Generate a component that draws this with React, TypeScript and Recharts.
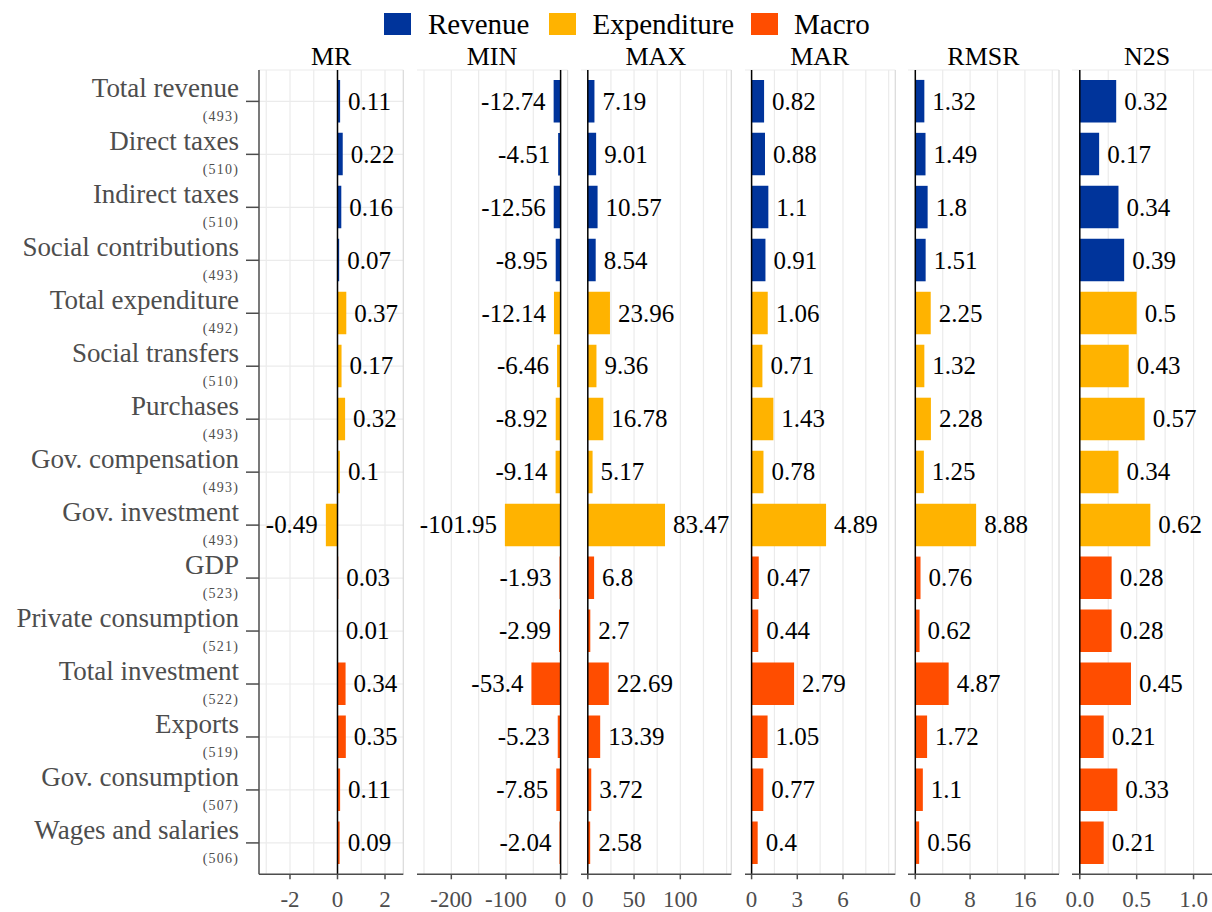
import React from 'react';
import { BarChart, Bar, XAxis, YAxis, CartesianGrid, ReferenceLine, LabelList, Cell } from 'recharts';

const categories = [
  'Total revenue', 'Direct taxes', 'Indirect taxes', 'Social contributions',
  'Total expenditure', 'Social transfers', 'Purchases', 'Gov. compensation', 'Gov. investment',
  'GDP', 'Private consumption', 'Total investment', 'Exports', 'Gov. consumption', 'Wages and salaries',
];
const counts = [493, 510, 510, 493, 492, 510, 493, 493, 493, 523, 521, 522, 519, 507, 506];
const groups = [
  'Revenue', 'Revenue', 'Revenue', 'Revenue',
  'Expenditure', 'Expenditure', 'Expenditure', 'Expenditure', 'Expenditure',
  'Macro', 'Macro', 'Macro', 'Macro', 'Macro', 'Macro',
];
const legendGroups = ['Revenue', 'Expenditure', 'Macro'];

const mrValues = [0.11, 0.22, 0.16, 0.07, 0.37, 0.17, 0.32, 0.1, -0.49, 0.03, 0.01, 0.34, 0.35, 0.11, 0.09];
const minValues = [-12.74, -4.51, -12.56, -8.95, -12.14, -6.46, -8.92, -9.14, -101.95, -1.93, -2.99, -53.4, -5.23, -7.85, -2.04];
const maxValues = [7.19, 9.01, 10.57, 8.54, 23.96, 9.36, 16.78, 5.17, 83.47, 6.8, 2.7, 22.69, 13.39, 3.72, 2.58];
const marValues = [0.82, 0.88, 1.1, 0.91, 1.06, 0.71, 1.43, 0.78, 4.89, 0.47, 0.44, 2.79, 1.05, 0.77, 0.4];
const rmsrValues = [1.32, 1.49, 1.8, 1.51, 2.25, 1.32, 2.28, 1.25, 8.88, 0.76, 0.62, 4.87, 1.72, 1.1, 0.56];
const n2sValues = [0.32, 0.17, 0.34, 0.39, 0.5, 0.43, 0.57, 0.34, 0.62, 0.28, 0.28, 0.45, 0.21, 0.33, 0.21];

const mrTicks = [-2, 0, 2];
const minTicks = [-200, -100, 0];
const maxTicks = [0, 50, 100];
const marTicks = [0, 3, 6];
const rmsrTicks = [0, 8, 16];
const n2sTicks = [0, 0.5, 1];

const mrGrid = [-3, -2, -1, 0, 1, 2];
const minGrid = [-250, -200, -150, -100, -50, 0];
const maxGrid = [0, 25, 50, 75, 100, 125, 150];
const marGrid = [0, 1.5, 3, 4.5, 6, 7.5, 9];
const rmsrGrid = [0, 4, 8, 12, 16, 20];
const n2sGrid = [0, 0.25, 0.5, 0.75, 1, 1.25];

const FONT = '"Liberation Serif", "Times New Roman", serif';
const GROUP_COLORS: Record<string, string> = {
  Revenue: '#00349B',
  Expenditure: '#FFB300',
  Macro: '#FF4D00',
};

const W = 1212;
const H = 912;
const PLOT_TOP = 70;
const PLOT_BOTTOM = 874.3;
const AXIS_GREY = '#4d4d4d';

const panels = [
  { title: 'MR', values: mrValues, left: 259, right: 403.3, domain: [-3.305, 2.77], ticks: mrTicks, grid: mrGrid },
  { title: 'MIN', values: minValues, left: 416.7, right: 567.3, domain: [-262.8, 12.8], ticks: minTicks, grid: minGrid },
  { title: 'MAX', values: maxValues, left: 580.7, right: 731, domain: [-7.35, 155.1], ticks: maxTicks, grid: maxGrid },
  { title: 'MAR', values: marValues, left: 744.7, right: 895, domain: [-0.433, 9.435], ticks: marTicks, grid: marGrid },
  { title: 'RMSR', values: rmsrValues, left: 908, right: 1059, domain: [-1.067, 20.98], ticks: rmsrTicks, grid: rmsrGrid },
  { title: 'N2S', values: n2sValues, left: 1072, right: 1222, domain: [-0.0685, 1.25], ticks: n2sTicks, grid: n2sGrid, fmt: (v: number) => v.toFixed(1) },
];

// legend layout (box left, text left)
const legendLayout = [
  { box: 384, text: 428 },
  { box: 549, text: 592.5 },
  { box: 751, text: 794 },
];

const CategoryTick = (props: any) => {
  const { x, y, payload } = props;
  const i = categories.indexOf(payload.value);
  return (
    <g>
      <text x={x} y={y - 4} textAnchor="end" fontSize={27} fill={AXIS_GREY} fontFamily={FONT}>
        {payload.value}
      </text>
      <text x={x} y={y + 20} textAnchor="end" fontSize={14} letterSpacing={1.2} fill={AXIS_GREY} fontFamily={FONT}>
        ({counts[i]})
      </text>
    </g>
  );
};

const renderValue = (props: any) => {
  const vb = props.viewBox || {};
  const x = Number(props.x ?? vb.x);
  const y = Number(props.y ?? vb.y);
  const w = Number(props.width ?? vb.width);
  const h = Number(props.height ?? vb.height);
  const v = Number(props.value);
  const neg = v < 0;
  const lo = Math.min(x, x + w);
  const hi = Math.max(x, x + w);
  return (
    <text
      x={neg ? lo - 8 : hi + 8}
      y={y + h / 2}
      textAnchor={neg ? 'end' : 'start'}
      dominantBaseline="central"
      fontSize={25}
      fill="#000"
      fontFamily={FONT}
    >
      {String(props.value)}
    </text>
  );
};

const Panel = ({ p, first }: { p: any; first: boolean }) => {
  const padL = first ? 0 : 40;
  const padR = 8;
  const chartLeft = first ? 0 : p.left - padL;
  const width = p.right + padR - chartLeft;
  const data = categories.map((name, i) => ({ name, group: groups[i], value: p.values[i] }));
  return (
    <div style={{ position: 'absolute', left: chartLeft, top: 0 }}>
      <BarChart
        width={width}
        height={H}
        data={data}
        layout="vertical"
        margin={{ top: PLOT_TOP, right: padR, bottom: 0, left: padL }}
        barSize={42.5}
      >
        <CartesianGrid stroke="#ebebeb" strokeWidth={1.2} verticalValues={p.grid} />
        <XAxis
          type="number"
          domain={p.domain}
          ticks={p.ticks}
          allowDataOverflow
          interval={0}
          height={H - PLOT_BOTTOM}
          tickSize={5}
          tickMargin={11}
          axisLine={{ stroke: AXIS_GREY, strokeWidth: 1.5 }}
          tickLine={{ stroke: AXIS_GREY, strokeWidth: 1.5 }}
          tick={{ fontSize: 23, fill: AXIS_GREY, fontFamily: FONT }}
          tickFormatter={p.fmt}
        />
        <XAxis
          xAxisId="top"
          orientation="top"
          type="number"
          domain={p.domain}
          allowDataOverflow
          height={0}
          tick={false}
          tickLine={false}
          axisLine={{ stroke: '#d9d9d9', strokeWidth: 1.2 }}
        />
        <YAxis
          type="category"
          dataKey="name"
          width={first ? p.left : 0}
          interval={0}
          padding={{ top: 4.9, bottom: 4.9 }}
          tickSize={first ? 13 : 0}
          tickMargin={first ? 7 : 0}
          axisLine={{ stroke: AXIS_GREY, strokeWidth: 1.5 }}
          tickLine={first ? { stroke: AXIS_GREY, strokeWidth: 1.5 } : false}
          tick={first ? CategoryTick : false}
        />
        <ReferenceLine x={p.domain[1]} stroke="#d9d9d9" strokeWidth={1.2} />
        <Bar dataKey="value" isAnimationActive={false}>
          {data.map((d, i) => (
            <Cell key={i} fill={GROUP_COLORS[d.group]} />
          ))}
          <LabelList dataKey="value" content={renderValue} />
        </Bar>
        <ReferenceLine x={0} stroke="#000" strokeWidth={1.5} />
      </BarChart>
    </div>
  );
};

export default function App() {
  return (
    <div style={{ position: 'absolute', left: 0, top: 0, width: W, height: H, overflow: 'hidden', background: '#fff' }}>
      {/* legend */}
      {legendGroups.map((g, i) => (
        <React.Fragment key={g}>
          <div
            style={{
              position: 'absolute', left: legendLayout[i].box, top: 13.3, width: 27, height: 21.5,
              background: GROUP_COLORS[g],
            }}
          />
          <div
            style={{
              position: 'absolute', left: legendLayout[i].text, top: 9.7, fontSize: 29, lineHeight: '29px',
              fontFamily: FONT, color: '#000', whiteSpace: 'nowrap',
            }}
          >
            {g}
          </div>
        </React.Fragment>
      ))}

      {/* panel titles */}
      {panels.map((p) => (
        <div
          key={p.title}
          style={{
            position: 'absolute', left: p.left, width: p.right - p.left, top: 44.2, textAlign: 'center',
            fontSize: 26, lineHeight: '26px', fontFamily: FONT, color: '#000',
          }}
        >
          {p.title}
        </div>
      ))}

      {panels.map((p, i) => (
        <Panel key={p.title} p={p} first={i === 0} />
      ))}
    </div>
  );
}
